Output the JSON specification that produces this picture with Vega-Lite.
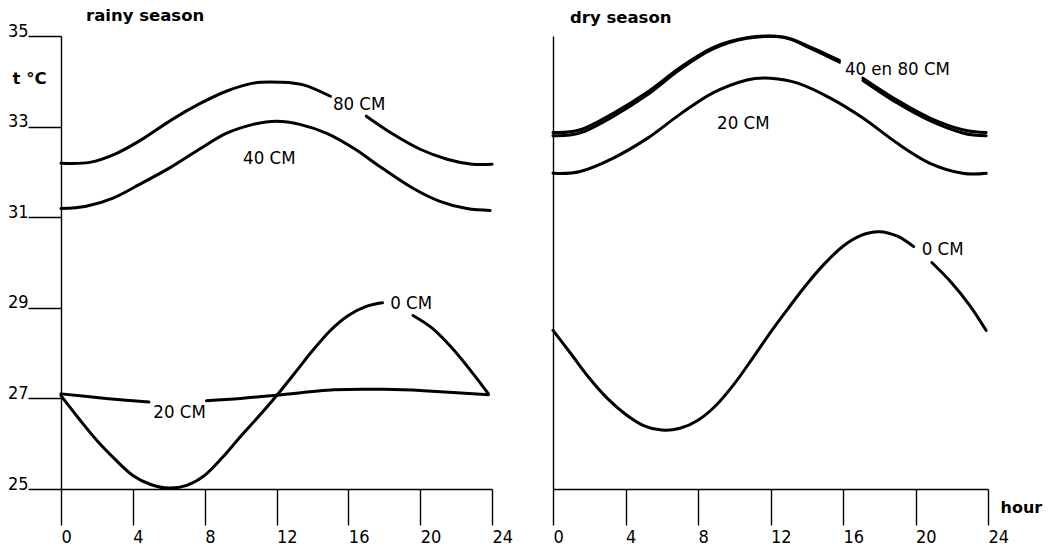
{
  "$schema": "https://vega.github.io/schema/vega-lite/v6.json",
  "background": "white",
  "padding": {"left": 7, "top": 7, "right": 5, "bottom": 0},
  "spacing": 61,
  "bounds": "flush",
  "config": {
    "view": {"stroke": null},
    "axis": {
      "domainColor": "black", "tickColor": "black", "labelColor": "black", "titleColor": "black",
      "domainWidth": 1.4, "tickWidth": 1.4, "grid": false,
      "labelFont": "DejaVu Sans Condensed", "labelFontSize": 18,
      "labelFlush": false, "labelOverlap": false
    }
  },
  "datasets": {
    "curves": [
      {"panel":"rainy","series":"80 CM","seg":"a","hour":0,"temp":32.19},
      {"panel":"rainy","series":"80 CM","seg":"a","hour":1.6,"temp":32.21},
      {"panel":"rainy","series":"80 CM","seg":"a","hour":3.1,"temp":32.41},
      {"panel":"rainy","series":"80 CM","seg":"a","hour":4.6,"temp":32.74},
      {"panel":"rainy","series":"80 CM","seg":"a","hour":6.2,"temp":33.16},
      {"panel":"rainy","series":"80 CM","seg":"a","hour":7.7,"temp":33.5},
      {"panel":"rainy","series":"80 CM","seg":"a","hour":9.2,"temp":33.78},
      {"panel":"rainy","series":"80 CM","seg":"a","hour":10.7,"temp":33.96},
      {"panel":"rainy","series":"80 CM","seg":"a","hour":12.2,"temp":33.98},
      {"panel":"rainy","series":"80 CM","seg":"a","hour":13.5,"temp":33.92},
      {"panel":"rainy","series":"80 CM","seg":"a","hour":15.0,"temp":33.67},
      {"panel":"rainy","series":"80 CM","seg":"b","hour":17.0,"temp":33.23},
      {"panel":"rainy","series":"80 CM","seg":"b","hour":18.5,"temp":32.83},
      {"panel":"rainy","series":"80 CM","seg":"b","hour":20.0,"temp":32.5},
      {"panel":"rainy","series":"80 CM","seg":"b","hour":21.5,"temp":32.28},
      {"panel":"rainy","series":"80 CM","seg":"b","hour":22.9,"temp":32.17},
      {"panel":"rainy","series":"80 CM","seg":"b","hour":24,"temp":32.17},

      {"panel":"rainy","series":"40 CM","seg":"a","hour":0,"temp":31.19},
      {"panel":"rainy","series":"40 CM","seg":"a","hour":1.4,"temp":31.24},
      {"panel":"rainy","series":"40 CM","seg":"a","hour":2.9,"temp":31.42},
      {"panel":"rainy","series":"40 CM","seg":"a","hour":4.4,"temp":31.73},
      {"panel":"rainy","series":"40 CM","seg":"a","hour":6.1,"temp":32.1},
      {"panel":"rainy","series":"40 CM","seg":"a","hour":7.7,"temp":32.5},
      {"panel":"rainy","series":"40 CM","seg":"a","hour":9.2,"temp":32.85},
      {"panel":"rainy","series":"40 CM","seg":"a","hour":10.7,"temp":33.05},
      {"panel":"rainy","series":"40 CM","seg":"a","hour":12.0,"temp":33.12},
      {"panel":"rainy","series":"40 CM","seg":"a","hour":13.3,"temp":33.05},
      {"panel":"rainy","series":"40 CM","seg":"a","hour":14.8,"temp":32.85},
      {"panel":"rainy","series":"40 CM","seg":"a","hour":16.3,"temp":32.52},
      {"panel":"rainy","series":"40 CM","seg":"a","hour":17.9,"temp":32.08},
      {"panel":"rainy","series":"40 CM","seg":"a","hour":19.6,"temp":31.64},
      {"panel":"rainy","series":"40 CM","seg":"a","hour":21.1,"temp":31.35},
      {"panel":"rainy","series":"40 CM","seg":"a","hour":22.6,"temp":31.19},
      {"panel":"rainy","series":"40 CM","seg":"a","hour":23.9,"temp":31.15},

      {"panel":"rainy","series":"20 CM","seg":"a","hour":0,"temp":27.1},
      {"panel":"rainy","series":"20 CM","seg":"a","hour":2.5,"temp":27.0},
      {"panel":"rainy","series":"20 CM","seg":"a","hour":4.9,"temp":26.92},
      {"panel":"rainy","series":"20 CM","seg":"b","hour":8.1,"temp":26.95},
      {"panel":"rainy","series":"20 CM","seg":"b","hour":10.0,"temp":27.0},
      {"panel":"rainy","series":"20 CM","seg":"b","hour":12.0,"temp":27.07},
      {"panel":"rainy","series":"20 CM","seg":"b","hour":15.2,"temp":27.19},
      {"panel":"rainy","series":"20 CM","seg":"b","hour":18.0,"temp":27.2},
      {"panel":"rainy","series":"20 CM","seg":"b","hour":20.2,"temp":27.17},
      {"panel":"rainy","series":"20 CM","seg":"b","hour":23.8,"temp":27.08},

      {"panel":"rainy","series":"0 CM","seg":"a","hour":0,"temp":27.06},
      {"panel":"rainy","series":"0 CM","seg":"a","hour":1,"temp":26.55},
      {"panel":"rainy","series":"0 CM","seg":"a","hour":2,"temp":26.07},
      {"panel":"rainy","series":"0 CM","seg":"a","hour":3,"temp":25.66},
      {"panel":"rainy","series":"0 CM","seg":"a","hour":4,"temp":25.3},
      {"panel":"rainy","series":"0 CM","seg":"a","hour":5,"temp":25.1},
      {"panel":"rainy","series":"0 CM","seg":"a","hour":6,"temp":25.02},
      {"panel":"rainy","series":"0 CM","seg":"a","hour":7,"temp":25.08},
      {"panel":"rainy","series":"0 CM","seg":"a","hour":8,"temp":25.3},
      {"panel":"rainy","series":"0 CM","seg":"a","hour":9,"temp":25.7},
      {"panel":"rainy","series":"0 CM","seg":"a","hour":10,"temp":26.16},
      {"panel":"rainy","series":"0 CM","seg":"a","hour":11,"temp":26.6},
      {"panel":"rainy","series":"0 CM","seg":"a","hour":12,"temp":27.06},
      {"panel":"rainy","series":"0 CM","seg":"a","hour":13,"temp":27.55},
      {"panel":"rainy","series":"0 CM","seg":"a","hour":14,"temp":28.05},
      {"panel":"rainy","series":"0 CM","seg":"a","hour":15,"temp":28.5},
      {"panel":"rainy","series":"0 CM","seg":"a","hour":16,"temp":28.83},
      {"panel":"rainy","series":"0 CM","seg":"a","hour":17,"temp":29.03},
      {"panel":"rainy","series":"0 CM","seg":"a","hour":17.9,"temp":29.11},
      {"panel":"rainy","series":"0 CM","seg":"b","hour":19.6,"temp":28.83},
      {"panel":"rainy","series":"0 CM","seg":"b","hour":20.7,"temp":28.54},
      {"panel":"rainy","series":"0 CM","seg":"b","hour":21.8,"temp":28.1},
      {"panel":"rainy","series":"0 CM","seg":"b","hour":22.9,"temp":27.57},
      {"panel":"rainy","series":"0 CM","seg":"b","hour":23.8,"temp":27.1},

      {"panel":"dry","series":"80 CM","seg":"a","hour":0,"temp":32.87},
      {"panel":"dry","series":"80 CM","seg":"a","hour":1.5,"temp":32.93},
      {"panel":"dry","series":"80 CM","seg":"a","hour":3.3,"temp":33.29},
      {"panel":"dry","series":"80 CM","seg":"a","hour":5.2,"temp":33.76},
      {"panel":"dry","series":"80 CM","seg":"a","hour":7.0,"temp":34.3},
      {"panel":"dry","series":"80 CM","seg":"a","hour":8.8,"temp":34.74},
      {"panel":"dry","series":"80 CM","seg":"a","hour":10.7,"temp":34.96},
      {"panel":"dry","series":"80 CM","seg":"a","hour":12.7,"temp":34.98},
      {"panel":"dry","series":"80 CM","seg":"a","hour":14.3,"temp":34.74},
      {"panel":"dry","series":"80 CM","seg":"a","hour":15.8,"temp":34.46},
      {"panel":"dry","series":"80 CM","seg":"b","hour":17.1,"temp":34.07},
      {"panel":"dry","series":"80 CM","seg":"b","hour":19.0,"temp":33.58},
      {"panel":"dry","series":"80 CM","seg":"b","hour":20.8,"temp":33.19},
      {"panel":"dry","series":"80 CM","seg":"b","hour":22.6,"temp":32.93},
      {"panel":"dry","series":"80 CM","seg":"b","hour":23.9,"temp":32.87},

      {"panel":"dry","series":"40 CM","seg":"a","hour":0,"temp":32.8},
      {"panel":"dry","series":"40 CM","seg":"a","hour":1.5,"temp":32.86},
      {"panel":"dry","series":"40 CM","seg":"a","hour":3.3,"temp":33.22},
      {"panel":"dry","series":"40 CM","seg":"a","hour":5.2,"temp":33.7},
      {"panel":"dry","series":"40 CM","seg":"a","hour":7.0,"temp":34.26},
      {"panel":"dry","series":"40 CM","seg":"a","hour":8.8,"temp":34.71},
      {"panel":"dry","series":"40 CM","seg":"a","hour":10.7,"temp":34.95},
      {"panel":"dry","series":"40 CM","seg":"a","hour":12.7,"temp":34.97},
      {"panel":"dry","series":"40 CM","seg":"a","hour":14.3,"temp":34.71},
      {"panel":"dry","series":"40 CM","seg":"a","hour":15.8,"temp":34.42},
      {"panel":"dry","series":"40 CM","seg":"b","hour":17.1,"temp":34.02},
      {"panel":"dry","series":"40 CM","seg":"b","hour":19.0,"temp":33.52},
      {"panel":"dry","series":"40 CM","seg":"b","hour":20.8,"temp":33.13},
      {"panel":"dry","series":"40 CM","seg":"b","hour":22.6,"temp":32.86},
      {"panel":"dry","series":"40 CM","seg":"b","hour":23.9,"temp":32.8},

      {"panel":"dry","series":"20 CM","seg":"a","hour":0,"temp":31.97},
      {"panel":"dry","series":"20 CM","seg":"a","hour":1.5,"temp":32.01},
      {"panel":"dry","series":"20 CM","seg":"a","hour":3.3,"temp":32.3},
      {"panel":"dry","series":"20 CM","seg":"a","hour":5.2,"temp":32.74},
      {"panel":"dry","series":"20 CM","seg":"a","hour":7.0,"temp":33.27},
      {"panel":"dry","series":"20 CM","seg":"a","hour":8.8,"temp":33.74},
      {"panel":"dry","series":"20 CM","seg":"a","hour":10.7,"temp":34.03},
      {"panel":"dry","series":"20 CM","seg":"a","hour":12.0,"temp":34.07},
      {"panel":"dry","series":"20 CM","seg":"a","hour":13.5,"temp":33.96},
      {"panel":"dry","series":"20 CM","seg":"a","hour":15.3,"temp":33.63},
      {"panel":"dry","series":"20 CM","seg":"a","hour":17.1,"temp":33.19},
      {"panel":"dry","series":"20 CM","seg":"a","hour":19.0,"temp":32.63},
      {"panel":"dry","series":"20 CM","seg":"a","hour":20.8,"temp":32.19},
      {"panel":"dry","series":"20 CM","seg":"a","hour":22.6,"temp":31.97},
      {"panel":"dry","series":"20 CM","seg":"a","hour":23.9,"temp":31.97},

      {"panel":"dry","series":"0 CM","seg":"a","hour":0,"temp":28.5},
      {"panel":"dry","series":"0 CM","seg":"a","hour":1,"temp":27.98},
      {"panel":"dry","series":"0 CM","seg":"a","hour":2,"temp":27.45},
      {"panel":"dry","series":"0 CM","seg":"a","hour":3,"temp":27.0},
      {"panel":"dry","series":"0 CM","seg":"a","hour":4,"temp":26.65},
      {"panel":"dry","series":"0 CM","seg":"a","hour":5,"temp":26.4},
      {"panel":"dry","series":"0 CM","seg":"a","hour":6,"temp":26.3},
      {"panel":"dry","series":"0 CM","seg":"a","hour":7,"temp":26.34},
      {"panel":"dry","series":"0 CM","seg":"a","hour":8,"temp":26.52},
      {"panel":"dry","series":"0 CM","seg":"a","hour":9,"temp":26.85},
      {"panel":"dry","series":"0 CM","seg":"a","hour":10,"temp":27.32},
      {"panel":"dry","series":"0 CM","seg":"a","hour":11,"temp":27.88},
      {"panel":"dry","series":"0 CM","seg":"a","hour":12,"temp":28.46},
      {"panel":"dry","series":"0 CM","seg":"a","hour":13,"temp":29.0},
      {"panel":"dry","series":"0 CM","seg":"a","hour":14,"temp":29.52},
      {"panel":"dry","series":"0 CM","seg":"a","hour":15,"temp":29.98},
      {"panel":"dry","series":"0 CM","seg":"a","hour":16,"temp":30.36},
      {"panel":"dry","series":"0 CM","seg":"a","hour":17,"temp":30.6},
      {"panel":"dry","series":"0 CM","seg":"a","hour":18,"temp":30.68},
      {"panel":"dry","series":"0 CM","seg":"a","hour":19,"temp":30.58},
      {"panel":"dry","series":"0 CM","seg":"a","hour":19.9,"temp":30.35},
      {"panel":"dry","series":"0 CM","seg":"b","hour":20.9,"temp":30.0},
      {"panel":"dry","series":"0 CM","seg":"b","hour":22,"temp":29.55},
      {"panel":"dry","series":"0 CM","seg":"b","hour":23,"temp":29.05},
      {"panel":"dry","series":"0 CM","seg":"b","hour":23.9,"temp":28.5}
    ],
    "labels": [
      {"panel":"rainy","label":"80 CM","hour":16.6,"temp":33.5},
      {"panel":"rainy","label":"40 CM","hour":11.6,"temp":32.3},
      {"panel":"rainy","label":"0 CM","hour":19.5,"temp":29.1},
      {"panel":"rainy","label":"20 CM","hour":6.6,"temp":26.7},
      {"panel":"dry","label":"40 en 80 CM","hour":19.0,"temp":34.27},
      {"panel":"dry","label":"20 CM","hour":10.5,"temp":33.08},
      {"panel":"dry","label":"0 CM","hour":21.5,"temp":30.29}
    ]
  },
  "hconcat": [
    {
      "width": 431,
      "height": 453,
      "title": {"text": "rainy season", "anchor": "start", "frame": "group", "dx": 25, "offset": -2, "font": "DejaVu Sans", "fontSize": 16.5, "fontWeight": "bold", "color": "black"},
      "layer": [
        {
          "data": {"name": "curves"},
          "transform": [{"filter": "datum.panel === 'rainy'"}],
          "mark": {"type": "line", "interpolate": "cardinal", "color": "black", "strokeCap": "round"},
          "encoding": {
            "x": {"field": "hour", "type": "quantitative", "scale": {"domain": [0, 24], "nice": false},
              "axis": {"values": [0, 4, 8, 12, 16, 20, 24], "tickSize": 36, "labelAlign": "left", "labelBaseline": "top", "labelPadding": 3, "title": null}},
            "y": {"field": "temp", "type": "quantitative", "scale": {"domain": [25, 35], "nice": false, "zero": false},
              "axis": {"values": [25, 27, 29, 31, 33, 35], "tickSize": 33, "labelAlign": "right", "labelBaseline": "alphabetic", "labelPadding": 0,
                "title": "t °C", "titleAngle": 0, "titleX": -49, "titleY": 42, "titleAlign": "left", "titleBaseline": "middle",
                "titleFont": "DejaVu Sans", "titleFontSize": 16.5, "titleFontWeight": "bold"}},
            "detail": [{"field": "series"}, {"field": "seg"}],
            "strokeWidth": {"field": "series", "type": "nominal", "scale": {"domain": ["80 CM", "40 CM", "20 CM", "0 CM"], "range": [3, 3, 2.2, 3.8]}, "legend": null}
          }
        },
        {
          "data": {"name": "labels"},
          "transform": [{"filter": "datum.panel === 'rainy'"}],
          "mark": {"type": "text", "font": "DejaVu Sans Condensed", "fontSize": 18.5, "color": "black"},
          "encoding": {
            "x": {"field": "hour", "type": "quantitative"},
            "y": {"field": "temp", "type": "quantitative"},
            "text": {"field": "label"}
          }
        }
      ]
    },
    {
      "width": 435,
      "height": 453,
      "title": {"text": "dry season", "anchor": "start", "frame": "group", "dx": 17, "offset": 3, "font": "DejaVu Sans", "fontSize": 16.5, "fontWeight": "bold", "color": "black"},
      "layer": [
        {
          "data": {"name": "curves"},
          "transform": [{"filter": "datum.panel === 'dry'"}],
          "mark": {"type": "line", "interpolate": "cardinal", "color": "black", "strokeCap": "round"},
          "encoding": {
            "x": {"field": "hour", "type": "quantitative", "scale": {"domain": [0, 24], "nice": false},
              "axis": {"values": [0, 4, 8, 12, 16, 20, 24], "tickSize": 36, "labelAlign": "left", "labelBaseline": "top", "labelPadding": 3,
                "title": "hour", "titleX": 447, "titleY": 18, "titleAlign": "left", "titleBaseline": "middle", "titleAnchor": null,
                "titleFont": "DejaVu Sans", "titleFontSize": 16, "titleFontWeight": "bold"}},
            "y": {"field": "temp", "type": "quantitative", "scale": {"domain": [25, 35], "nice": false, "zero": false},
              "axis": {"ticks": false, "labels": false, "title": null}},
            "detail": [{"field": "series"}, {"field": "seg"}],
            "strokeWidth": {"field": "series", "type": "nominal", "scale": {"domain": ["80 CM", "40 CM", "20 CM", "0 CM"], "range": [3, 3, 2.6, 3.8]}, "legend": null}
          }
        },
        {
          "data": {"name": "labels"},
          "transform": [{"filter": "datum.panel === 'dry'"}],
          "mark": {"type": "text", "font": "DejaVu Sans Condensed", "fontSize": 18.5, "color": "black"},
          "encoding": {
            "x": {"field": "hour", "type": "quantitative"},
            "y": {"field": "temp", "type": "quantitative"},
            "text": {"field": "label"}
          }
        }
      ]
    }
  ]
}
